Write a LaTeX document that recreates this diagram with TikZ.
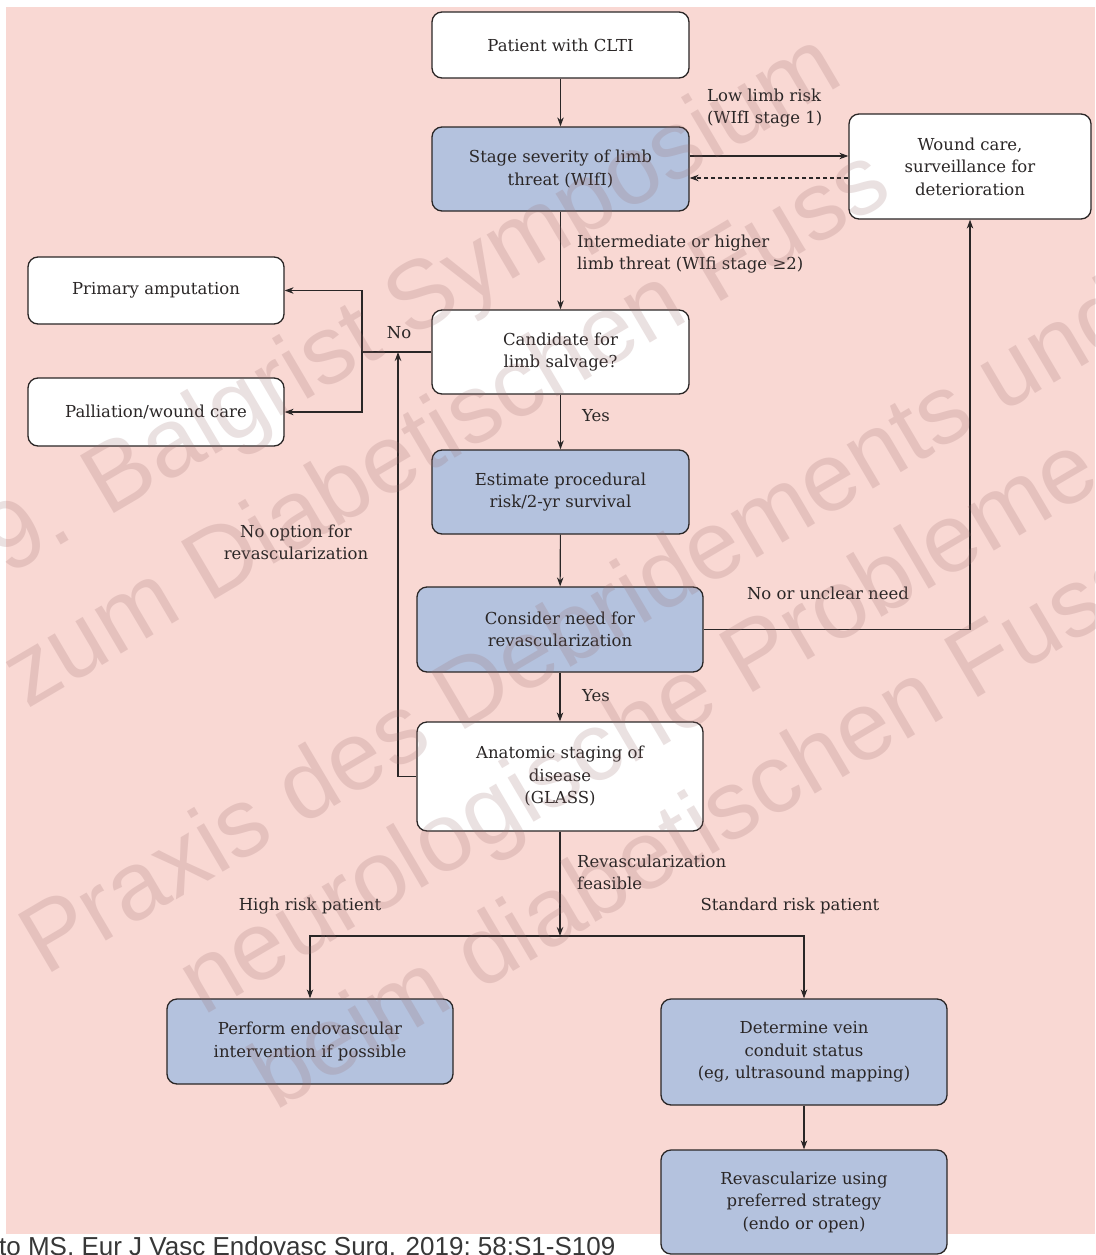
\documentclass[tikz,border=0pt]{standalone}
\usepackage{fontspec}
\setmainfont{DejaVu Serif}
\newfontfamily\wmfont{Liberation Sans}
\usetikzlibrary{arrows.meta,calc}
\definecolor{bgpink}{RGB}{249,216,211}
\definecolor{boxblue}{RGB}{180,194,222}
\definecolor{ink}{RGB}{42,38,38}
\definecolor{wmcol}{RGB}{150,105,105}
\definecolor{citegray}{RGB}{55,55,55}
\begin{document}
\begin{tikzpicture}[x=1pt,y=-1pt,
  box/.style={draw=ink, line width=1.3pt, rounded corners=10pt, align=center, text=ink,
    font=\fontsize{16.5}{22.5}\selectfont, inner sep=0pt},
  wbox/.style={box, fill=white},
  bbox/.style={box, fill=boxblue},
  lab/.style={text=ink, font=\fontsize{16.5}{22.5}\selectfont, inner sep=0pt},
  conn/.style={draw=ink, line width=1.1pt},
  arr/.style={conn, -{Stealth[length=9pt,width=6.5pt]}},
  wm/.style={text=wmcol, text opacity=0.2, font=\wmfont\fontsize{97}{97}\selectfont,
    rotate=30.5, anchor=base west, inner sep=0pt}
]
\useasboundingbox (0,0) rectangle (1095,1255);
\clip (0,0) rectangle (1095,1255);
\fill[white] (0,0) rectangle (1095,1255);
\fill[bgpink] (6,7) rectangle (1095,1234);

% boxes
\node[wbox, minimum width=257pt, minimum height=66pt] (patient) at (560.5,45) {Patient with CLTI};
\node[bbox, minimum width=257pt, minimum height=84pt] (stage) at (560.5,169) {Stage severity of limb\\threat (WIfI)};
\node[wbox, minimum width=242pt, minimum height=105pt] (wound) at (970,166.5) {Wound care,\\surveillance for\\deterioration};
\node[wbox, minimum width=256pt, minimum height=67pt] (amput) at (156,290.5) {Primary amputation};
\node[wbox, minimum width=256pt, minimum height=68pt] (pallia) at (156,412) {Palliation/wound care};
\node[wbox, minimum width=257pt, minimum height=84pt] (cand) at (560.5,352) {Candidate for\\limb salvage?};
\node[bbox, minimum width=257pt, minimum height=84pt] (est) at (560.5,492) {Estimate procedural\\risk/2-yr survival};
\node[bbox, minimum width=286pt, minimum height=85pt] (consider) at (560,629.5) {Consider need for\\revascularization};
\node[wbox, minimum width=286pt, minimum height=109pt] (anat) at (560,776.5) {Anatomic staging of\\disease\\(GLASS)};
\node[bbox, minimum width=286pt, minimum height=85pt] (perform) at (310,1041.5) {Perform endovascular\\intervention if possible};
\node[bbox, minimum width=286pt, minimum height=106pt] (determine) at (804,1052) {Determine vein\\conduit status\\(eg, ultrasound mapping)};
\node[bbox, minimum width=286pt, minimum height=104pt] (revasc) at (804,1202) {Revascularize using\\preferred strategy\\(endo or open)};

% labels
\node[lab, anchor=west, align=left] (lowlbl) at (707,108) {Low limb risk\\(WIfI stage 1)};
\node[lab, anchor=west, align=left] (intlbl) at (577,254) {Intermediate or higher\\limb threat (WIfi stage ≥2)};
\node[lab] (nolbl) at (399,333) {No};
\node[lab] (yes1) at (596,416) {Yes};
\node[lab, align=center] (noopt) at (296,542.5) {No option for\\revascularization};
\node[lab] (unclear) at (828,593) {No or unclear need};
\node[lab] (yes2) at (596,696) {Yes};
\node[lab, anchor=west, align=left] (feas) at (577,872.5) {Revascularization\\feasible};
\node[lab] (highrisk) at (310,906) {High risk patient};
\node[lab] (stdrisk) at (790,906) {Standard risk patient};

% helper coordinates
\coordinate (ylow) at (0,156);
\coordinate (ydash) at (0,178);
\coordinate (jn) at (362,0);
\coordinate (jl) at (398,0);
\coordinate (split) at (560,936);

% connectors
\draw[arr] (patient) -- (stage);
\draw[arr] (stage.east |- ylow) -- (wound.west |- ylow);
\draw[arr, dash pattern=on 4pt off 3pt] (wound.west |- ydash) -- (stage.east |- ydash);
\draw[arr] (stage) -- (cand);
\draw[conn] (cand.west) -- (cand.west -| jn);
\draw[arr] (cand.west -| jn) |- (amput.east);
\draw[arr] (cand.west -| jn) |- (pallia.east);
\draw[arr] (anat.west) -| (cand.west -| jl);
\draw[arr] (cand) -- (est);
\draw[arr] (est) -- (consider);
\draw[arr] (consider.east) -| (wound.south);
\draw[arr] (consider) -- (anat);
\draw[arr] (anat.south) -- (split);
\draw[arr] (split) -| (perform.north);
\draw[arr] (split) -| (determine.north);
\draw[arr] (determine) -- (revasc);

% citation
\node[anchor=base west, font=\wmfont\fontsize{26}{26}\selectfont, text=citegray, inner sep=0pt] (cite) at (-1,1255) {to MS, Eur J Vasc Endovasc Surg. 2019; 58:S1-S109};

% watermark
\node[wm] (wm1) at (7,577) {9. Balgrist Symposium};
\node[wm] (wm2) at (27,710) {zum Diabetischen Fuss};
\node[wm] (wm3) at (45,977) {Praxis des Debridements und};
\node[wm] (wm4) at (203,1017) {neurologische Probleme};
\node[wm] (wm5) at (275,1112) {beim diabetischen Fuss};
\end{tikzpicture}
\end{document}
